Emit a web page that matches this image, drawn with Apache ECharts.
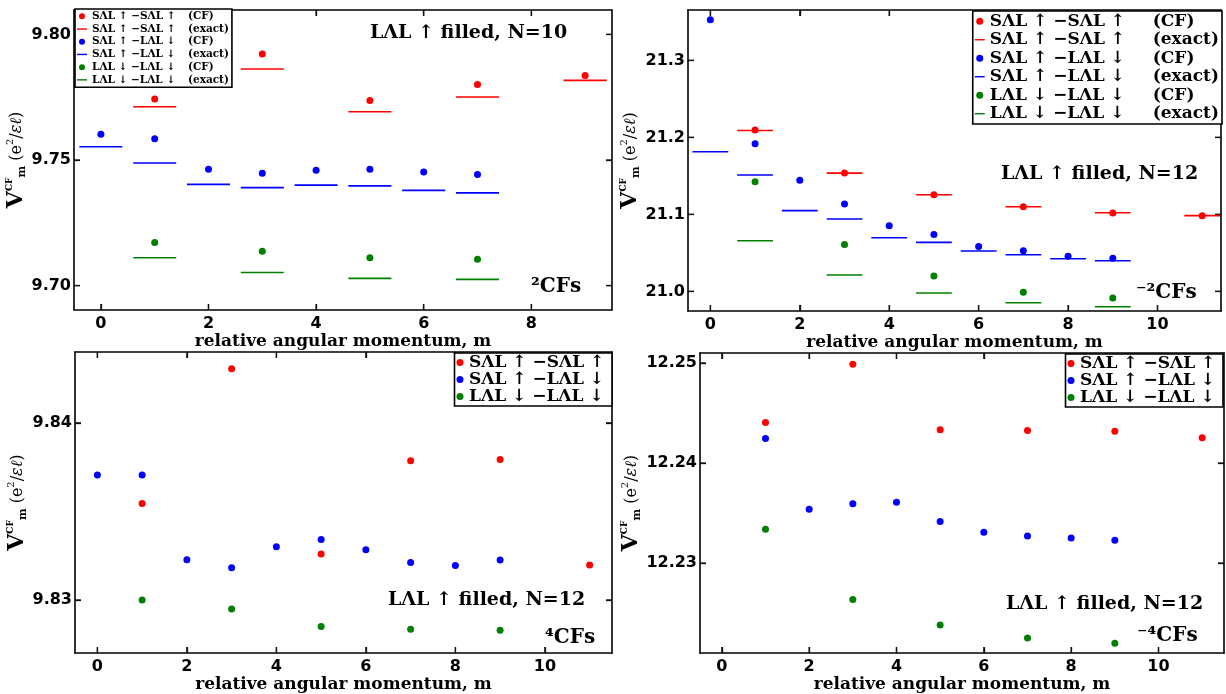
<!DOCTYPE html>
<html>
<head>
<meta charset="utf-8">
<script src="https://cdn.jsdelivr.net/npm/echarts@6/dist/echarts.min.js"></script>
<style>
html,body{margin:0;padding:0;background:#fff;}
#c{width:1226px;height:694px;}
</style>
</head>
<body>
<div id="c"></div>
<script>
// ---------- DATA ----------
// Panel A: LΛL ↑ filled, N=10, ²CFs
const aRedM = [1, 3, 5, 7, 9];
const aRedCF = [9.7743, 9.7922, 9.7737, 9.7800, 9.7836];
const aRedExact = [9.7712, 9.7862, 9.7692, 9.7751, 9.7817];
const aBlueM = [0, 1, 2, 3, 4, 5, 6, 7];
const aBlueCF = [9.7602, 9.7585, 9.7463, 9.7447, 9.7459, 9.7463, 9.7452, 9.7442];
const aBlueExact = [9.7553, 9.7488, 9.7403, 9.7390, 9.7400, 9.7397, 9.7379, 9.7369];
const aGreenM = [1, 3, 5, 7];
const aGreenCF = [9.7172, 9.7137, 9.7111, 9.7105];
const aGreenExact = [9.7111, 9.7052, 9.7029, 9.7025];
const aXTicks = [0, 2, 4, 6, 8];
const aYTicks = [9.70, 9.75, 9.80];

// Panel B: LΛL ↑ filled, N=12, ⁻²CFs
const bRedM = [1, 3, 5, 7, 9, 11];
const bRedCF = [21.2095, 21.1537, 21.1255, 21.1100, 21.1017, 21.0983];
const bRedExact = [21.2090, 21.1535, 21.1255, 21.1098, 21.1020, 21.0983];
const bBlueM = [0, 1, 2, 3, 4, 5, 6, 7, 8, 9];
const bBlueCF = [21.3528, 21.1918, 21.1442, 21.1134, 21.0853, 21.0740, 21.0584, 21.0528, 21.0455, 21.0429];
const bBlueExact = [21.1814, 21.1511, 21.1048, 21.0939, 21.0697, 21.0636, 21.0524, 21.0476, 21.0424, 21.0398];
const bGreenM = [1, 3, 5, 7, 9];
const bGreenCF = [21.1424, 21.0610, 21.0199, 20.9987, 20.9913];
const bGreenExact = [21.0658, 21.0212, 20.9978, 20.9853, 20.9801];
const bXTicks = [0, 2, 4, 6, 8, 10];
const bYTicks = [21.0, 21.1, 21.2, 21.3];

// Panel C: LΛL ↑ filled, N=12, ⁴CFs
const cRedM = [1, 3, 5, 7, 9, 11];
const cRed = [9.83545, 9.84305, 9.83259, 9.83786, 9.83793, 9.83197];
const cBlueM = [0, 1, 2, 3, 4, 5, 6, 7, 8, 9];
const cBlue = [9.83705, 9.83705, 9.83227, 9.83182, 9.83301, 9.83342, 9.83284, 9.83212, 9.83195, 9.83226];
const cGreenM = [1, 3, 5, 7, 9];
const cGreen = [9.83000, 9.82949, 9.82850, 9.82835, 9.82829];
const cXTicks = [0, 2, 4, 6, 8, 10];
const cYTicks = [9.83, 9.84];

// Panel D: LΛL ↑ filled, N=12, ⁻⁴CFs
const dRedM = [1, 3, 5, 7, 9, 11];
const dRed = [12.24405, 12.24988, 12.24332, 12.24325, 12.24318, 12.24252];
const dBlueM = [1, 2, 3, 4, 5, 6, 7, 8, 9];
const dBlue = [12.24245, 12.23539, 12.23592, 12.23609, 12.23416, 12.23307, 12.23270, 12.23250, 12.23227];
const dGreenM = [1, 3, 5, 7, 9];
const dGreen = [12.23337, 12.22637, 12.22381, 12.22252, 12.22199];
const dXTicks = [0, 2, 4, 6, 8, 10];
const dYTicks = [12.23, 12.24, 12.25];

const topNames = ['SΛL ↑ −SΛL ↑ (CF)', 'SΛL ↑ −SΛL ↑ (exact)', 'SΛL ↑ −LΛL ↓ (CF)',
                  'SΛL ↑ −LΛL ↓ (exact)', 'LΛL ↓ −LΛL ↓ (CF)', 'LΛL ↓ −LΛL ↓ (exact)'];
const botNames = ['SΛL ↑ −SΛL ↑', 'SΛL ↑ −LΛL ↓', 'LΛL ↓ −LΛL ↓'];

// ---------- STYLE ----------
const SERIF = '"DejaVu Serif", serif';
const SANS = '"DejaVu Sans", sans-serif';
const RED = '#ff0000', BLUE = '#0000ff', GREEN = '#008000';
const HALF = 0.4;
const TICK_LEN = 6;

function zip(ms, vs) { return ms.map((m, i) => [m, vs[i]]); }

const grids = [
  { left: 74, top: 10, width: 538, height: 300 },
  { left: 688, top: 10, width: 533, height: 301 },
  { left: 75, top: 352, width: 537, height: 302 },
  { left: 700, top: 353, width: 524, height: 301 }
];

function tick(vals) {
  return { show: true, inside: true, length: TICK_LEN, customValues: vals, lineStyle: { color: '#111', width: 1.3 } };
}
function frame() {
  return { show: true, onZero: false, lineStyle: { color: '#000', width: 1.6 } };
}
function lab(vals, margin, fmt) {
  return { show: true, customValues: vals, margin, formatter: fmt,
           fontFamily: SANS, fontWeight: 'bold', fontSize: 16, color: '#000' };
}

const xAxes = [], yAxes = [], series = [];

// tick marks on all four sides, positioned through the axes' own scales
function tickSeries(gi, xt, yt, xmin, ymin) {
  series.push({
    type: 'custom', name: '_xt' + gi, xAxisIndex: 2 * gi, yAxisIndex: 2 * gi, silent: true, clip: false,
    data: xt.map(v => [v, ymin]), encode: { x: 0, y: 1 }, z: 1,
    renderItem: (params, api) => {
      const cs = params.coordSys;
      const x = api.coord([api.value(0), api.value(1)])[0];
      const st = { stroke: '#111', lineWidth: 1.3 };
      return { type: 'group', children: [
        { type: 'line', shape: { x1: x, y1: cs.y + cs.height, x2: x, y2: cs.y + cs.height - TICK_LEN }, style: st },
        { type: 'line', shape: { x1: x, y1: cs.y, x2: x, y2: cs.y + TICK_LEN }, style: st }
      ] };
    }
  });
  series.push({
    type: 'custom', name: '_yt' + gi, xAxisIndex: 2 * gi, yAxisIndex: 2 * gi, silent: true, clip: false,
    data: yt.map(v => [xmin, v]), encode: { x: 0, y: 1 }, z: 1,
    renderItem: (params, api) => {
      const cs = params.coordSys;
      const y = api.coord([api.value(0), api.value(1)])[1];
      const st = { stroke: '#111', lineWidth: 1.3 };
      return { type: 'group', children: [
        { type: 'line', shape: { x1: cs.x, y1: y, x2: cs.x + TICK_LEN, y2: y }, style: st },
        { type: 'line', shape: { x1: cs.x + cs.width, y1: y, x2: cs.x + cs.width - TICK_LEN, y2: y }, style: st }
      ] };
    }
  });
}

function addAxes(gi, xmin, xmax, xt, ymin, ymax, yt, dec, xGap, yGap) {
  xAxes.push({
    type: 'value', gridIndex: gi, min: xmin, max: xmax, position: 'bottom',
    axisLine: frame(), splitLine: { show: false },
    axisTick: tick(xt),
    axisLabel: lab(xt, 6, v => String(v)),
    name: 'relative angular momentum, m', nameLocation: 'middle', nameGap: xGap,
    nameTextStyle: { fontFamily: SERIF, fontWeight: 'bold', fontSize: 17, color: '#000' }
  });
  xAxes.push({
    type: 'value', gridIndex: gi, min: xmin, max: xmax, position: 'top',
    axisLine: frame(), splitLine: { show: false },
    axisTick: tick(xt),
    axisLabel: { show: false, customValues: xt }
  });
  yAxes.push({
    type: 'value', gridIndex: gi, min: ymin, max: ymax, position: 'left',
    axisLine: frame(), splitLine: { show: false },
    axisTick: tick(yt),
    axisLabel: lab(yt, 3, v => v.toFixed(dec)),
    name: '{V|V}{sup|CF}{sub|m}{u| (e}{s2|2}{u|/}{it|εℓ}{u|)}',
    nameLocation: 'middle', nameRotate: 90, nameGap: yGap,
    nameTextStyle: {
      color: '#000',
      rich: {
        V: { fontFamily: SERIF, fontWeight: 'bold', fontSize: 22, color: '#000' },
        sup: { fontFamily: SERIF, fontWeight: 'bold', fontSize: 9, verticalAlign: 'top', color: '#000', lineHeight: 12 },
        sub: { fontFamily: SERIF, fontWeight: 'bold', fontSize: 11, verticalAlign: 'bottom', color: '#000', lineHeight: 11 },
        u: { fontFamily: SERIF, fontSize: 16, color: '#000' },
        s2: { fontFamily: SERIF, fontSize: 10, verticalAlign: 'top', color: '#000', lineHeight: 14 },
        it: { fontFamily: SERIF, fontStyle: 'italic', fontSize: 16, color: '#000' }
      }
    }
  });
  yAxes.push({
    type: 'value', gridIndex: gi, min: ymin, max: ymax, position: 'right',
    axisLine: frame(), splitLine: { show: false },
    axisTick: tick(yt),
    axisLabel: { show: false, customValues: yt }
  });
  tickSeries(gi, xt, yt, xmin, ymin);
}
addAxes(0, -0.5, 9.5, aXTicks, 9.6903, 9.8097, aYTicks, 2, 22, 40);
addAxes(1, -0.5, 11.42, bXTicks, 20.9745, 21.3654, bYTicks, 1, 22, 41);
addAxes(2, -0.5, 11.5, cXTicks, 9.8270, 9.8440, cYTicks, 2, 18, 41);
addAxes(3, -0.5, 11.5, dXTicks, 12.2210, 12.2510, dYTicks, 2, 18, 43);

function renderExact(params, api) {
  const m = api.value(0), v = api.value(1);
  const p1 = api.coord([m - HALF, v]);
  const p2 = api.coord([m + HALF, v]);
  return {
    type: 'line',
    shape: { x1: p1[0], y1: p1[1], x2: p2[0], y2: p2[1] },
    style: { stroke: api.visual('color'), lineWidth: 1.6 }
  };
}
function dots(gi, name, ms, vs, color, size) {
  series.push({
    type: 'scatter', name, xAxisIndex: 2 * gi, yAxisIndex: 2 * gi,
    data: zip(ms, vs), symbol: 'circle', symbolSize: size,
    itemStyle: { color, opacity: 1 }, silent: true, z: 3
  });
}
function exact(gi, name, ms, vs, color) {
  series.push({
    type: 'custom', name, xAxisIndex: 2 * gi, yAxisIndex: 2 * gi,
    data: zip(ms, vs), encode: { x: 0, y: 1 }, renderItem: renderExact,
    itemStyle: { color, opacity: 1 }, silent: true, z: 2
  });
}
// Panel A
exact(0, topNames[1], aRedM, aRedExact, RED);
exact(0, topNames[3], aBlueM, aBlueExact, BLUE);
exact(0, topNames[5], aGreenM, aGreenExact, GREEN);
dots(0, topNames[0], aRedM, aRedCF, RED, 7);
dots(0, topNames[2], aBlueM, aBlueCF, BLUE, 7);
dots(0, topNames[4], aGreenM, aGreenCF, GREEN, 7);
// Panel B
exact(1, topNames[1], bRedM, bRedExact, RED);
exact(1, topNames[3], bBlueM, bBlueExact, BLUE);
exact(1, topNames[5], bGreenM, bGreenExact, GREEN);
dots(1, topNames[0], bRedM, bRedCF, RED, 7);
dots(1, topNames[2], bBlueM, bBlueCF, BLUE, 7);
dots(1, topNames[4], bGreenM, bGreenCF, GREEN, 7);
// Panel C
dots(2, botNames[0], cRedM, cRed, RED, 7);
dots(2, botNames[1], cBlueM, cBlue, BLUE, 7);
dots(2, botNames[2], cGreenM, cGreen, GREEN, 7);
// Panel D
dots(3, botNames[0], dRedM, dRed, RED, 7);
dots(3, botNames[1], dBlueM, dBlue, BLUE, 7);
dots(3, botNames[2], dGreenM, dGreen, GREEN, 7);

function lineIcon(w, h) {
  const c = h / 2;
  return 'path://M0,0 L0,0 M0,' + h + ' L0,' + h + ' M0,' + (c - 0.7) + ' L' + w + ',' + (c - 0.7) +
         ' L' + w + ',' + (c + 0.7) + ' L0,' + (c + 0.7) + ' Z';
}
function legendFmt(name) {
  const i = name.indexOf('(');
  if (i < 0) return '{a|' + name + '}';
  return '{a|' + name.slice(0, i).trim() + '}{b|' + name.slice(i) + '}';
}
function makeLegend(pos, names, withLines, fs, lh, colW, iw, ih) {
  const rich = {
    a: { fontFamily: SERIF, fontWeight: 'bold', fontSize: fs, lineHeight: lh, color: '#000', width: colW },
    b: { fontFamily: SERIF, fontWeight: 'bold', fontSize: fs, lineHeight: lh, color: '#000' }
  };
  return Object.assign({
    orient: 'vertical', selectedMode: false,
    data: names.map((n, i) => ({ name: n, icon: (withLines && i % 2 === 1) ? lineIcon(iw, ih) : 'circle' })),
    itemWidth: iw, itemHeight: ih, itemGap: 0,
    padding: [1, 3, 1, 2], borderColor: '#000', borderWidth: 1.6, backgroundColor: '#fff',
    formatter: legendFmt,
    itemStyle: { opacity: 1 },
    textStyle: { fontFamily: SERIF, fontWeight: 'bold', fontSize: fs, lineHeight: lh, color: '#000', rich }
  }, pos);
}
const legends = [
  makeLegend({ left: 75, top: 9 }, topNames, true, 10.5, 12.7, 96, 10, 6),
  makeLegend({ right: 4, top: 11 }, topNames, true, 17, 18.5, 163, 10, 7),
  makeLegend({ right: 614, top: 353 }, botNames, false, 17, 16.5, 140, 8, 7),
  makeLegend({ right: 3, top: 354 }, botNames, false, 17, 16.5, 140, 8, 7)
];

function ann(x, y, text, size) {
  return {
    type: 'text', x, y, silent: true,
    style: { text, font: 'bold ' + size + 'px ' + SERIF, fill: '#000', verticalAlign: 'middle', align: 'left' }
  };
}
const graphic = [
  ann(370, 33, 'LΛL ↑ filled, N=10', 19),
  ann(531, 287, '²CFs', 20),
  ann(1001, 174, 'LΛL ↑ filled, N=12', 19),
  ann(1136, 293, '⁻²CFs', 20),
  ann(388, 600, 'LΛL ↑ filled, N=12', 19),
  ann(545, 638, '⁴CFs', 20),
  ann(1006, 604, 'LΛL ↑ filled, N=12', 19),
  ann(1137, 636, '⁻⁴CFs', 20)
];

const chart = echarts.init(document.getElementById('c'), null, { renderer: 'canvas' });
chart.setOption({
  animation: false,
  backgroundColor: '#fff',
  grid: grids,
  xAxis: xAxes,
  yAxis: yAxes,
  legend: legends,
  series,
  graphic
});
</script>
</body>
</html>
